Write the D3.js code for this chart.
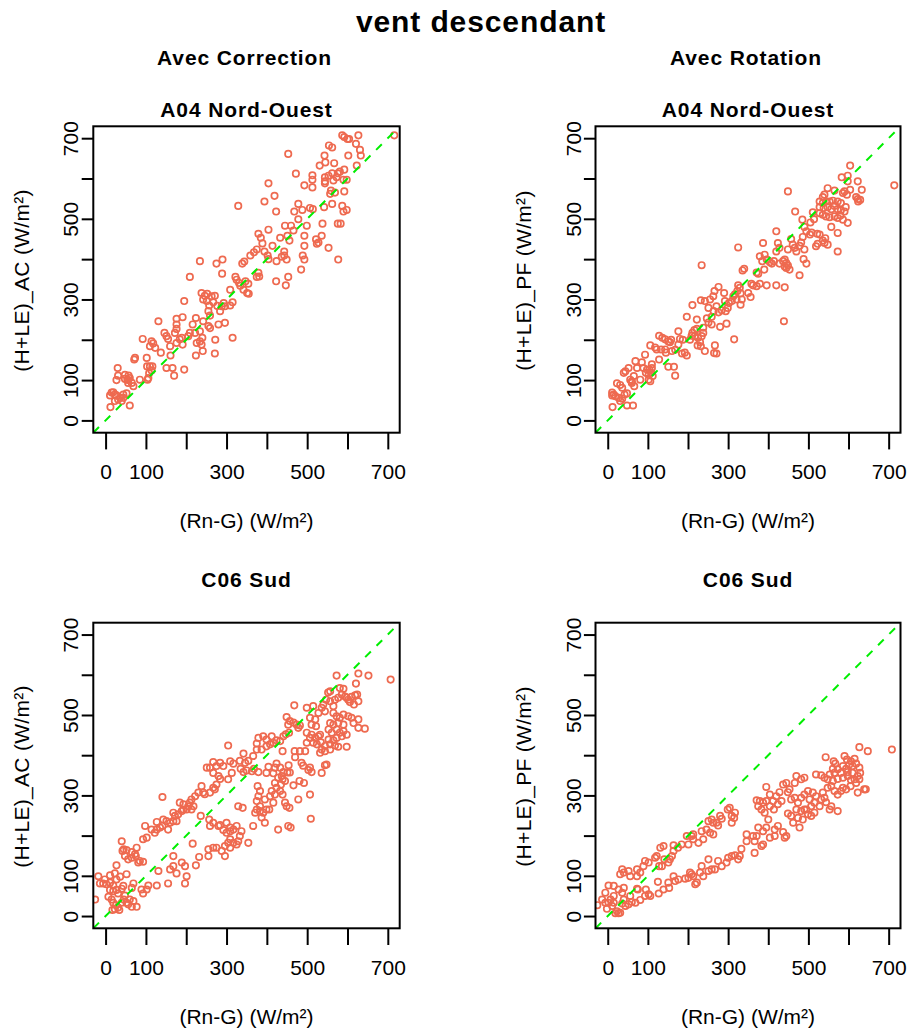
<!DOCTYPE html>
<html><head><meta charset="utf-8">
<script src="https://cdn.jsdelivr.net/npm/d3@7"></script>
<style>
body{margin:0;background:#fff}
text{font-family:"Liberation Sans",Arial,Helvetica,sans-serif;fill:#000}
</style>
</head><body>
<svg id="chart" width="910" height="1030"></svg>
<script>
const mainTitle = "vent descendant";
const columnTitles = ["Avec Correction", "Avec Rotation"];
const siteTitles = ["A04 Nord-Ouest", "C06 Sud"];
const yLabels = ["(H+LE)_AC (W/m²)", "(H+LE)_PF (W/m²)"];
const xLabel = "(Rn-G) (W/m²)";
const tickValues = [0, 100, 200, 300, 400, 500, 600, 700];
const tickLabels = [0, 100, 300, 500, 700];
const axisDomain = [-30.5, 729.5];

// A04 Nord-Ouest, Avec Correction : [Rn-G, H+LE_AC]
const a04_correction = [[716,707],[587,707],[592,703],[600,698],[604,698],[627,707],[554,682],[562,677],[621,686],[631,671],[633,657],[453,661],[543,657],[545,640],[602,657],[567,638],[623,632],[531,632],[592,622],[581,617],[576,613],[562,613],[472,612],[513,608],[513,597],[544,603],[553,607],[544,593],[565,595],[590,597],[573,603],[598,597],[404,588],[493,583],[513,578],[544,588],[559,570],[569,565],[592,568],[557,562],[419,557],[394,543],[329,532],[478,537],[468,518],[488,522],[507,527],[514,524],[542,529],[562,537],[587,532],[590,518],[598,522],[423,518],[478,499],[499,483],[445,483],[460,483],[466,471],[538,488],[576,488],[583,488],[404,473],[379,463],[385,453],[389,439],[433,453],[451,458],[456,446],[493,458],[493,433],[522,449],[528,441],[524,438],[536,458],[553,428],[414,433],[375,424],[368,417],[359,409],[394,419],[402,409],[404,400],[443,419],[443,409],[449,399],[437,406],[424,395],[485,374],[489,409],[493,399],[577,399],[339,389],[344,394],[379,366],[375,356],[381,357],[354,339],[347,345],[423,345],[447,335],[453,356],[322,356],[325,349],[331,341],[334,334],[342,324],[351,316],[355,314],[309,324],[234,395],[275,389],[290,399],[289,364],[209,356],[195,296],[131,246],[176,252],[176,238],[191,256],[224,254],[216,238],[242,246],[238,316],[246,309],[252,314],[263,308],[271,309],[242,300],[251,296],[267,293],[257,285],[255,271],[259,260],[284,271],[296,283],[309,285],[315,293],[293,291],[288,283],[277,284],[280,238],[296,242],[255,234],[259,229],[234,221],[240,205],[234,196],[222,217],[226,192],[209,217],[205,209],[146,217],[151,209],[155,202],[114,196],[118,191],[92,202],[110,184],[123,180],[137,168],[160,184],[176,192],[189,205],[191,188],[184,201],[172,217],[176,227],[224,161],[241,172],[238,188],[271,166],[272,200],[315,205],[161,161],[151,130],[166,130],[170,111],[195,126],[102,155],[110,134],[103,134],[116,134],[114,124],[108,117],[106,105],[104,101],[73,155],[71,151],[30,130],[31,111],[48,113],[57,111],[54,101],[60,105],[56,93],[65,93],[69,85],[27,100],[48,103],[56,100],[85,101],[60,37],[15,69],[19,70],[23,64],[27,62],[11,62],[31,52],[36,56],[44,64],[52,67],[12,33],[23,48],[40,48],[44,56]];

// A04 Nord-Ouest, Avec Rotation : [Rn-G, H+LE_PF]
const a04_rotation = [[714,583],[604,632],[583,603],[598,607],[598,593],[604,572],[623,593],[633,572],[619,554],[624,543],[629,547],[623,549],[449,568],[548,576],[565,570],[536,554],[540,560],[590,568],[586,564],[596,560],[528,543],[536,539],[544,543],[553,543],[561,545],[573,543],[581,539],[593,529],[528,529],[538,527],[548,529],[557,524],[565,532],[573,524],[581,521],[590,518],[528,514],[536,510],[544,506],[553,504],[565,506],[573,502],[580,508],[586,498],[598,490],[557,480],[573,465],[573,419],[511,516],[514,499],[485,498],[505,491],[467,518],[420,469],[490,480],[495,469],[504,461],[508,466],[522,463],[528,461],[519,432],[523,438],[536,446],[542,452],[548,436],[540,440],[486,455],[482,441],[478,433],[457,450],[461,436],[466,428],[470,419],[449,424],[424,440],[428,428],[420,419],[490,424],[488,400],[495,389],[478,360],[387,440],[391,411],[379,407],[441,399],[445,390],[437,395],[428,389],[449,384],[453,374],[445,378],[441,382],[404,392],[409,389],[414,395],[396,399],[385,395],[390,374],[439,246],[234,385],[325,429],[336,372],[340,376],[371,367],[375,364],[358,339],[362,335],[371,333],[379,339],[396,335],[420,335],[441,330],[325,335],[329,329],[323,321],[317,313],[313,308],[331,315],[334,300],[331,287],[309,296],[321,300],[302,291],[292,296],[350,316],[356,306],[276,331],[266,321],[263,308],[290,316],[255,300],[242,296],[232,298],[211,286],[251,279],[264,271],[276,268],[284,273],[294,271],[299,279],[259,257],[271,283],[197,257],[222,250],[247,253],[251,243],[238,230],[259,238],[280,232],[296,240],[315,201],[267,186],[271,166],[265,167],[242,172],[222,227],[216,224],[211,217],[217,209],[225,205],[234,209],[238,217],[205,200],[209,210],[230,194],[232,184],[224,186],[176,221],[180,202],[176,188],[187,200],[192,168],[197,161],[185,166],[158,200],[151,196],[143,176],[160,172],[168,175],[151,133],[128,210],[136,205],[143,201],[155,194],[118,181],[122,176],[133,176],[128,151],[145,168],[168,111],[165,133],[106,186],[93,163],[85,144],[89,130],[110,139],[104,126],[110,130],[108,118],[112,110],[102,101],[106,97],[98,126],[95,118],[102,113],[69,147],[73,130],[52,130],[44,122],[40,118],[65,110],[56,101],[60,97],[66,85],[81,101],[60,93],[23,92],[31,88],[36,81],[11,69],[15,64],[19,60],[27,56],[36,54],[48,67],[42,64],[31,48],[11,62],[12,33],[48,37],[63,37]];

// C06 Sud, Avec Correction : [Rn-G, H+LE_AC]
const c06_correction = [[707,588],[652,598],[627,603],[573,598],[621,578],[557,559],[552,556],[581,567],[590,565],[598,543],[610,545],[619,549],[624,551],[627,534],[616,526],[606,532],[602,538],[594,546],[586,551],[577,543],[569,538],[565,522],[557,534],[547,538],[540,526],[536,518],[544,509],[565,505],[573,497],[581,493],[590,501],[602,497],[610,493],[615,480],[627,489],[643,466],[627,468],[590,476],[577,480],[565,476],[557,480],[553,464],[561,456],[573,464],[581,456],[590,460],[598,451],[586,447],[573,443],[565,437],[553,439],[557,427],[569,424],[577,421],[598,421],[557,414],[544,410],[536,414],[532,406],[515,522],[528,505],[520,489],[511,476],[522,472],[499,518],[507,493],[468,524],[449,495],[457,485],[466,481],[474,476],[478,468],[482,474],[453,476],[447,452],[455,456],[499,456],[511,451],[520,443],[528,447],[532,451],[507,443],[515,431],[499,431],[524,427],[534,432],[544,423],[495,410],[482,410],[469,410],[486,381],[490,374],[503,363],[511,358],[507,369],[536,356],[544,375],[548,377],[507,302],[509,242],[478,290],[492,331],[466,325],[457,357],[451,357],[454,375],[470,395],[441,447],[433,435],[439,410],[424,437],[416,431],[408,427],[399,439],[391,447],[379,443],[375,429],[412,447],[399,422],[387,414],[304,424],[424,379],[420,369],[433,369],[441,358],[437,348],[428,344],[416,355],[404,371],[399,356],[420,331],[412,311],[420,302],[433,311],[439,302],[445,282],[449,273],[456,269],[453,224],[459,220],[428,215],[408,298],[395,290],[406,265],[416,282],[424,319],[435,327],[445,336],[439,340],[481,336],[375,414],[366,398],[354,386],[346,381],[342,404],[333,386],[335,366],[350,362],[342,358],[363,360],[368,366],[379,358],[377,323],[383,311],[379,298],[375,286],[383,273],[375,265],[371,257],[383,261],[391,257],[399,265],[387,245],[395,232],[366,224],[354,182],[337,211],[329,186],[333,199],[317,215],[325,224],[309,220],[300,232],[309,191],[317,182],[325,178],[304,182],[296,174],[288,162],[296,149],[309,170],[275,170],[267,170],[255,166],[255,149],[280,224],[284,226],[292,214],[300,207],[309,211],[329,273],[340,269],[267,383],[259,369],[251,369],[267,356],[284,381],[292,373],[309,385],[317,379],[313,356],[304,340],[275,327],[267,319],[271,315],[259,307],[284,341],[275,373],[280,348],[238,323],[242,307],[246,303],[230,307],[222,298],[213,290],[209,282],[218,273],[205,273],[201,265],[193,265],[189,261],[180,253],[168,257],[168,236],[160,232],[151,236],[143,240],[141,224],[135,220],[127,215],[122,207],[114,215],[102,195],[93,191],[98,224],[127,234],[155,215],[176,236],[172,249],[184,282],[193,278],[213,265],[141,296],[40,186],[45,166],[52,164],[48,149],[56,141],[65,145],[75,149],[77,170],[73,154],[85,137],[93,135],[81,133],[65,159],[42,162],[27,126],[23,106],[11,101],[-2,91],[-6,81],[2,79],[11,83],[19,76],[27,91],[36,98],[44,75],[52,104],[65,70],[69,81],[89,66],[93,56],[102,66],[106,76],[127,76],[131,112],[155,81],[160,116],[168,124],[168,149],[176,106],[189,133],[197,81],[201,99],[197,124],[216,180],[232,147],[224,126],[236,249],[257,240],[259,224],[267,232],[-26,41],[-18,99],[-14,81],[7,48],[15,41],[19,33],[26,27],[31,21],[23,17],[17,15],[34,15],[40,33],[45,41],[56,29],[60,41],[69,37],[77,23],[65,23],[52,33],[48,51],[31,56],[27,65],[19,62],[11,65],[40,68]];

// C06 Sud, Avec Rotation : [Rn-G, H+LE_PF]
const c06_rotation = [[708,414],[627,420],[648,410],[543,395],[563,385],[567,379],[561,366],[590,398],[596,389],[606,385],[615,391],[619,379],[602,377],[586,373],[594,366],[610,373],[627,369],[629,356],[623,348],[610,356],[598,358],[581,356],[573,365],[565,356],[553,352],[540,344],[532,350],[519,352],[548,340],[561,336],[573,341],[586,344],[598,348],[606,338],[619,331],[615,340],[627,340],[605,323],[594,315],[586,319],[581,311],[573,302],[565,311],[557,323],[548,319],[536,307],[540,294],[532,290],[544,283],[557,273],[573,261],[553,265],[528,273],[515,282],[511,307],[519,298],[499,311],[490,302],[482,294],[503,290],[507,273],[515,257],[507,249],[499,253],[490,265],[482,261],[474,282],[466,294],[453,315],[449,308],[457,290],[470,265],[474,244],[457,249],[449,255],[462,232],[478,220],[486,240],[495,265],[639,315],[623,307],[482,340],[470,348],[466,331],[490,344],[643,315],[395,321],[404,302],[412,286],[420,298],[428,308],[437,327],[445,331],[433,286],[424,278],[414,265],[404,273],[395,286],[387,282],[379,286],[371,288],[375,273],[383,265],[391,257],[400,240],[395,220],[416,215],[424,224],[437,209],[441,195],[445,199],[416,199],[404,195],[387,211],[375,220],[371,199],[366,186],[387,178],[383,174],[366,157],[362,199],[346,203],[346,186],[333,167],[329,149],[325,141],[317,151],[309,149],[300,145],[296,133],[284,124],[275,137],[267,116],[259,116],[251,141],[234,124],[230,108],[222,83],[218,79],[238,99],[251,112],[209,104],[213,99],[201,95],[205,108],[193,93],[176,91],[168,87],[164,99],[151,83],[153,70],[127,56],[125,85],[139,66],[102,54],[93,50],[81,40],[69,33],[60,35],[52,29],[44,25],[36,31],[31,8],[23,12],[19,7],[27,7],[15,33],[299,265],[304,269],[317,257],[315,244],[309,232],[309,249],[284,242],[280,249],[271,232],[275,225],[263,232],[259,240],[251,236],[246,215],[255,207],[263,203],[238,191],[234,211],[226,182],[213,191],[209,199],[213,203],[201,178],[197,199],[184,178],[175,170],[164,176],[164,162],[160,149],[155,141],[151,133],[141,141],[135,124],[122,149],[118,145],[131,170],[139,174],[128,124],[102,133],[93,137],[89,124],[81,108],[73,116],[73,99],[52,112],[56,99],[40,108],[36,116],[31,104],[40,70],[36,58],[27,66],[15,75],[2,76],[-6,58],[-14,41],[-6,33],[7,41],[15,50],[11,25],[40,41],[56,50],[73,68],[75,66],[95,66],[106,50],[-26,27],[2,33],[-2,18]];

const panels = [
  {data: a04_correction, col: 0, row: 0, site: siteTitles[0], ylab: yLabels[0]},
  {data: a04_rotation,   col: 1, row: 0, site: siteTitles[0], ylab: yLabels[1]},
  {data: c06_correction, col: 0, row: 1, site: siteTitles[1], ylab: yLabels[0]},
  {data: c06_rotation,   col: 1, row: 1, site: siteTitles[1], ylab: yLabels[1]}
];

const colRanges = [[93.3, 399.7], [595.5, 900.5]];
const rowRanges = [[432.7, 126.3], [928.3, 622.7]];
const siteTitleY = [117.3, 586.7];
const FONT = 21;
const pointColor = "#EE6A50";
const lineColor = "#00EE00";

const svg = d3.select("#chart");
svg.append("rect").attr("width", 910).attr("height", 1030).attr("fill", "#fff");

svg.append("text").attr("x", 481).attr("y", 31.5).attr("text-anchor", "middle")
  .attr("font-size", 30).attr("font-weight", "bold").attr("letter-spacing", 0.9)
  .text(mainTitle);

columnTitles.forEach((t, i) => {
  const cx = (colRanges[i][0] + colRanges[i][1]) / 2 - 2;
  svg.append("text").attr("x", cx).attr("y", 64.5).attr("text-anchor", "middle")
    .attr("font-size", FONT).attr("font-weight", "bold").attr("letter-spacing", 0.9)
    .text(t);
});

panels.forEach((p, i) => {
  const xr = colRanges[p.col], yr = rowRanges[p.row];
  const x = d3.scaleLinear().domain(axisDomain).range(xr);
  const y = d3.scaleLinear().domain(axisDomain).range(yr);
  const g = svg.append("g");
  const clipId = "clip" + i;
  g.append("clipPath").attr("id", clipId).append("rect")
    .attr("x", xr[0]).attr("y", yr[1]).attr("width", xr[1] - xr[0]).attr("height", yr[0] - yr[1]);

  const plot = g.append("g").attr("clip-path", `url(#${clipId})`);
  plot.selectAll("circle").data(p.data).join("circle")
    .attr("cx", d => x(d[0])).attr("cy", d => y(d[1])).attr("r", 3.2)
    .attr("fill", "none").attr("stroke", pointColor).attr("stroke-width", 1.7);

  plot.append("line")
    .attr("x1", x(axisDomain[0])).attr("y1", y(axisDomain[0]))
    .attr("x2", x(axisDomain[1])).attr("y2", y(axisDomain[1]))
    .attr("stroke", lineColor).attr("stroke-width", 2).attr("stroke-dasharray", "8,8");

  g.append("rect").attr("x", xr[0]).attr("y", yr[1])
    .attr("width", xr[1] - xr[0]).attr("height", yr[0] - yr[1])
    .attr("fill", "none").attr("stroke", "#000").attr("stroke-width", 2);

  // x axis
  const xa = g.append("g").attr("transform", `translate(0,${yr[0]})`)
    .call(d3.axisBottom(x).tickValues(tickValues).tickSize(16.7)
      .tickFormat(d => tickLabels.includes(d) ? String(d) : ""));
  xa.select(".domain").remove();
  xa.selectAll(".tick line").attr("stroke", "#000").attr("stroke-width", 2);
  xa.selectAll(".tick text").attr("y", 46.6).attr("dy", null)
    .attr("font-size", FONT).attr("font-family", null).attr("fill", "#000");

  // y axis
  const ya = g.append("g").attr("transform", `translate(${xr[0]},0)`)
    .call(d3.axisLeft(y).tickValues(tickValues).tickSize(11.6)
      .tickFormat(d => tickLabels.includes(d) ? String(d) : ""));
  ya.select(".domain").remove();
  ya.selectAll(".tick line").attr("stroke", "#000").attr("stroke-width", 2);
  ya.selectAll(".tick text").attr("x", null).attr("dy", null).attr("y", null)
    .attr("transform", "translate(-15,0) rotate(-90)")
    .attr("text-anchor", "middle").attr("font-size", FONT).attr("font-family", null).attr("fill", "#000");

  const cx = (xr[0] + xr[1]) / 2;
  const cy = (yr[0] + yr[1]) / 2;
  g.append("text").attr("x", cx).attr("y", yr[0] + 95.6).attr("text-anchor", "middle")
    .attr("font-size", FONT).text(xLabel);
  g.append("text").attr("transform", `translate(${xr[0] - 64.3},${cy + 1}) rotate(-90)`)
    .attr("text-anchor", "middle").attr("font-size", FONT).attr("letter-spacing", 0.3)
    .text(p.ylab);
  g.append("text").attr("x", cx).attr("y", siteTitleY[p.row]).attr("text-anchor", "middle")
    .attr("font-size", FONT).attr("font-weight", "bold").attr("letter-spacing", 0.9)
    .text(p.site);
});
</script>
</body></html>
